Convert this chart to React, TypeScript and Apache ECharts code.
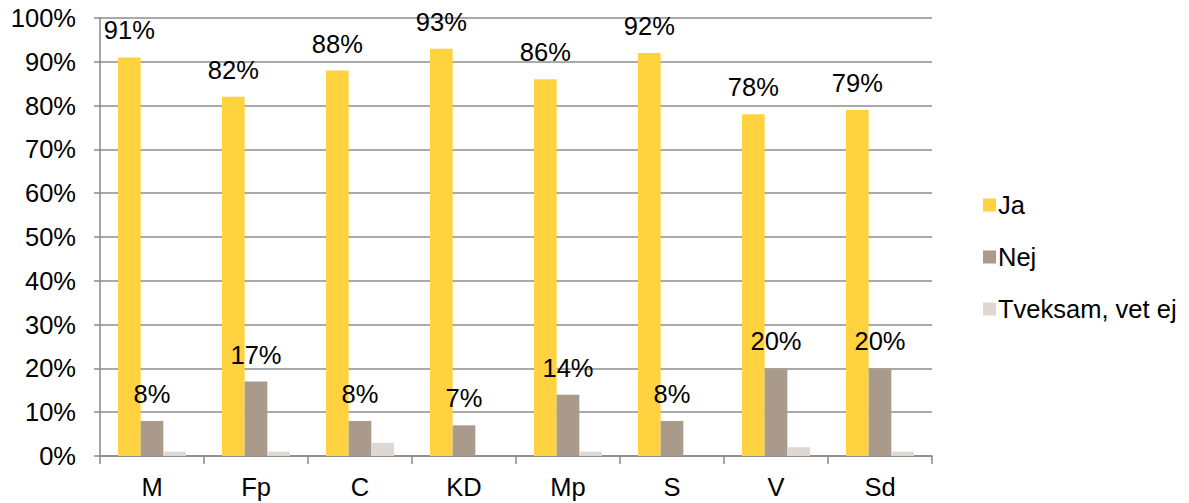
import React, { useEffect, useRef } from "react";
import * as echarts from "echarts";

const categories = ["M", "Fp", "C", "KD", "Mp", "S", "V", "Sd"];
const jaValues = [91, 82, 88, 93, 86, 92, 78, 79];
const nejValues = [8, 17, 8, 7, 14, 8, 20, 20];
const tveksamValues = [1, 1, 3, 0, 1, 0, 2, 1];
const seriesNames = ["Ja", "Nej", "Tveksam, vet ej"];

export default function App() {
  const ref = useRef<HTMLDivElement>(null);
  useEffect(() => {
    const chart = echarts.init(ref.current!, null, { renderer: "svg" });
    const font = "Liberation Sans, Arial, sans-serif";
    const fs = 25.5;
    const label = {
      show: true,
      position: "top",
      distance: 14,
      formatter: "{c}%",
      color: "#000",
      fontSize: fs,
      fontFamily: font,
    };
    chart.setOption({
      animation: false,
      backgroundColor: "#fff",
      grid: { left: 100, right: 257, top: 18, bottom: 47, containLabel: false },
      legend: {
        orient: "vertical",
        left: 978,
        top: 187,
        itemWidth: 13,
        itemHeight: 13,
        itemGap: 26,
        icon: "rect",
        textStyle: { fontSize: fs, fontFamily: font, color: "#000", padding: [0, 0, 0, -3] },
        data: seriesNames,
      },
      xAxis: {
        type: "category",
        data: categories,
        boundaryGap: true,
        axisLine: { lineStyle: { color: "#898989", width: 1.5 } },
        axisTick: { show: true, length: 8, alignWithLabel: false, lineStyle: { color: "#898989", width: 1.5 } },
        axisLabel: { fontSize: fs, fontFamily: font, color: "#000", margin: 18 },
      },
      yAxis: {
        type: "value",
        min: 0,
        max: 100,
        interval: 10,
        axisLine: { show: true, lineStyle: { color: "#898989", width: 1.5 } },
        axisTick: { show: true, length: 6, lineStyle: { color: "#898989", width: 1.5 } },
        axisLabel: { fontSize: fs, fontFamily: font, color: "#000", formatter: "{value}%", margin: 24 },
        splitLine: { show: true, lineStyle: { color: "#8c8c8c", width: 1.5 } },
      },
      series: [
        {
          name: seriesNames[0],
          type: "bar",
          data: jaValues,
          barWidth: 22.7,
          barGap: "0%",
          itemStyle: { color: "#FFD23F" },
          label,
        },
        {
          name: seriesNames[1],
          type: "bar",
          data: nejValues,
          barWidth: 22.7,
          barGap: "0%",
          itemStyle: { color: "#A99A8C" },
          label,
        },
        {
          name: seriesNames[2],
          type: "bar",
          data: tveksamValues,
          barWidth: 22.7,
          barGap: "0%",
          itemStyle: { color: "#DDD8D2" },
        },
      ],
    });
    return () => chart.dispose();
  }, []);
  return <div ref={ref} style={{ width: 1189, height: 503, position: "absolute", left: 0, top: 0 }} />;
}
